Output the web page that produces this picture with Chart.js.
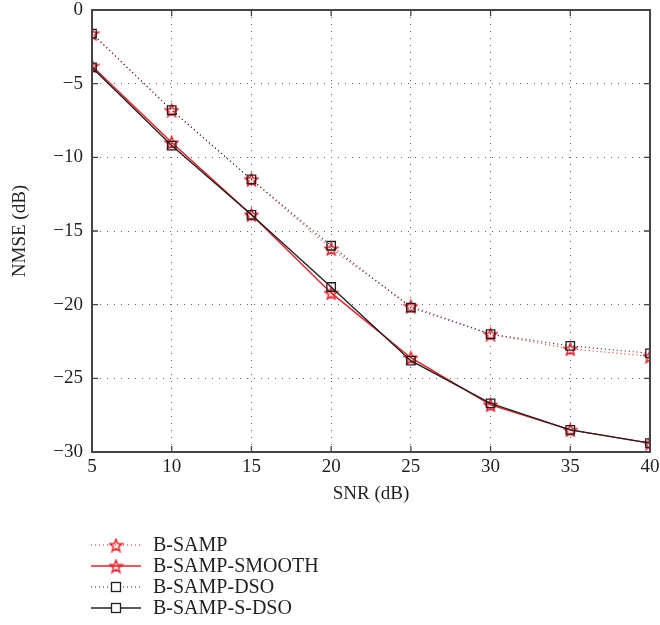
<!DOCTYPE html>
<html>
<head>
<meta charset="utf-8">
<script src="https://cdn.jsdelivr.net/npm/chart.js@4.4.1/dist/chart.umd.min.js"></script>
<style>
  html, body { margin: 0; padding: 0; background: #fff; }
  #wrap { width: 660px; height: 625px; }
</style>
</head>
<body>
<div id="wrap"><canvas id="grafica"></canvas></div>
<script>
// datos
const snr = [5, 10, 15, 20, 25, 30, 35, 40];
const bSamp = [-1.6, -6.8, -11.5, -16.2, -20.1, -22.0, -23.0, -23.5];
const bSampSmooth = [-3.8, -9.0, -13.9, -19.2, -23.6, -26.8, -28.5, -29.4];
const bSampDso = [-1.6, -6.8, -11.5, -16.0, -20.2, -22.0, -22.8, -23.3];
const bSampSDso = [-3.9, -9.2, -13.9, -18.8, -23.8, -26.7, -28.5, -29.4];
const seriesNames = ['B-SAMP', 'B-SAMP-SMOOTH', 'B-SAMP-DSO', 'B-SAMP-S-DSO'];
const yTicks = [0, -5, -10, -15, -20, -25, -30];

const ROJO = '#ec1c24';
const NEGRO = '#231f20';
const FUENTE = "'Liberation Serif', 'DejaVu Serif', serif";

// estrella de 5 puntas dibujada en un canvas para usar como pointStyle
function crearEstrella(size) {
  const c = document.createElement('canvas');
  c.width = size; c.height = size;
  const g = c.getContext('2d');
  const cx = size / 2, cy = size / 2 + 0.8;
  const rOut = size / 2 - 1, rIn = rOut * 0.42;
  g.beginPath();
  for (let i = 0; i < 10; i++) {
    const r = i % 2 === 0 ? rOut : rIn;
    const a = -Math.PI / 2 + i * Math.PI / 5;
    const px = cx + r * Math.cos(a), py = cy + r * Math.sin(a);
    if (i === 0) g.moveTo(px, py); else g.lineTo(px, py);
  }
  g.closePath();
  g.strokeStyle = ROJO;
  g.lineWidth = 1.5;
  g.stroke();
  return c;
}
const estrella = crearEstrella(15);

const toPts = arr => arr.map((v, i) => ({ x: snr[i], y: v }));

const datasets = [
  { label: seriesNames[0], data: toPts(bSamp), borderColor: ROJO, borderWidth: 1.1, borderDash: [1, 3],
    pointStyle: estrella, pointRadius: 7, order: 2 },
  { label: seriesNames[1], data: toPts(bSampSmooth), borderColor: ROJO, borderWidth: 1.4, borderDash: [],
    pointStyle: estrella, pointRadius: 7, order: 2 },
  { label: seriesNames[2], data: toPts(bSampDso), borderColor: NEGRO, borderWidth: 1.1, borderDash: [1, 3],
    pointStyle: 'rect', pointRadius: 6, pointBorderColor: NEGRO, pointBackgroundColor: 'rgba(0,0,0,0)', pointBorderWidth: 1.3, order: 1 },
  { label: seriesNames[3], data: toPts(bSampSDso), borderColor: NEGRO, borderWidth: 1.4, borderDash: [],
    pointStyle: 'rect', pointRadius: 6, pointBorderColor: NEGRO, pointBackgroundColor: 'rgba(0,0,0,0)', pointBorderWidth: 1.3, order: 1 }
];
datasets.forEach(d => { d.fill = false; d.tension = 0; d.pointBorderColor = d.pointBorderColor || ROJO; });

// caja del grafico, marcas interiores y leyenda debajo
const cajaYLeyenda = {
  id: 'cajaYLeyenda',
  afterDatasetsDraw(chart) {
    const { ctx, chartArea: a, scales } = chart;
    ctx.save();
    ctx.strokeStyle = '#444';
    ctx.lineWidth = 2;
    ctx.strokeRect(a.left, a.top, a.right - a.left, a.bottom - a.top);
    ctx.lineWidth = 1.3;
    ctx.beginPath();
    snr.forEach(v => {
      const x = scales.x.getPixelForValue(v);
      ctx.moveTo(x, a.bottom); ctx.lineTo(x, a.bottom - 6);
      ctx.moveTo(x, a.top); ctx.lineTo(x, a.top + 6);
    });
    yTicks.forEach(v => {
      const y = scales.y.getPixelForValue(v);
      ctx.moveTo(a.left, y); ctx.lineTo(a.left + 6, y);
      ctx.moveTo(a.right, y); ctx.lineTo(a.right - 6, y);
    });
    ctx.stroke();
    ctx.restore();
  },
  afterDraw(chart) {
    const { ctx, chartArea: a } = chart;
    ctx.save();
    ctx.font = '20px ' + FUENTE;
    ctx.textBaseline = 'middle';
    const x0 = a.left - 1, x1 = a.left + 49, xm = a.left + 24;
    chart.data.datasets.forEach((d, i) => {
      const y = a.bottom + 93 + i * 21;
      ctx.strokeStyle = d.borderColor;
      ctx.lineWidth = d.borderWidth;
      ctx.setLineDash(d.borderDash);
      ctx.beginPath(); ctx.moveTo(x0, y); ctx.lineTo(x1, y); ctx.stroke();
      ctx.setLineDash([]);
      if (d.pointStyle === 'rect') {
        ctx.fillStyle = '#fff';
        ctx.fillRect(xm - 4.5, y - 4.5, 9, 9);
        ctx.strokeStyle = NEGRO; ctx.lineWidth = 1.3;
        ctx.strokeRect(xm - 4.5, y - 4.5, 9, 9);
      } else {
        ctx.drawImage(estrella, xm - 7.5, y - 7.5);
      }
      ctx.fillStyle = NEGRO;
      ctx.fillText(d.label, a.left + 61, y + 1);
    });
    ctx.restore();
  }
};

new Chart(document.getElementById('grafica'), {
  type: 'line',
  data: { datasets },
  plugins: [cajaYLeyenda],
  options: {
    responsive: true,
    maintainAspectRatio: false,
    animation: false,
    layout: { padding: { top: 10, right: 10, bottom: 120, left: 0 } },
    plugins: { legend: { display: false }, tooltip: { enabled: false } },
    scales: {
      x: {
        type: 'linear', min: 5, max: 40,
        ticks: { stepSize: 5, color: NEGRO, padding: 4, font: { family: FUENTE, size: 19 } },
        grid: { color: '#666', lineWidth: 1, drawTicks: false },
        border: { display: true, color: '#444', width: 2, dash: [1, 6] },
        title: { display: true, text: 'SNR (dB)', color: NEGRO, padding: { top: 2, bottom: 0 }, font: { family: FUENTE, size: 19 } },
        afterFit(s) { s.height = 53; s.paddingLeft = 0; s.paddingRight = 0; }
      },
      y: {
        min: -30, max: 0,
        afterBuildTicks(s) { s.ticks = yTicks.map(v => ({ value: v })); },
        ticks: {
          color: NEGRO, padding: 9, font: { family: FUENTE, size: 19 },
          callback: v => v < 0 ? '\u2212' + Math.abs(v) : String(v)
        },
        grid: { color: '#666', lineWidth: 1, drawTicks: false },
        border: { display: true, color: '#444', width: 2, dash: [1, 6] },
        title: { display: true, text: 'NMSE (dB)', color: NEGRO, padding: { top: 9, bottom: 4 }, font: { family: FUENTE, size: 19 } },
        afterFit(s) { s.width = 92; s.paddingTop = 0; s.paddingBottom = 0; }
      }
    }
  }
});
</script>
</body>
</html>
